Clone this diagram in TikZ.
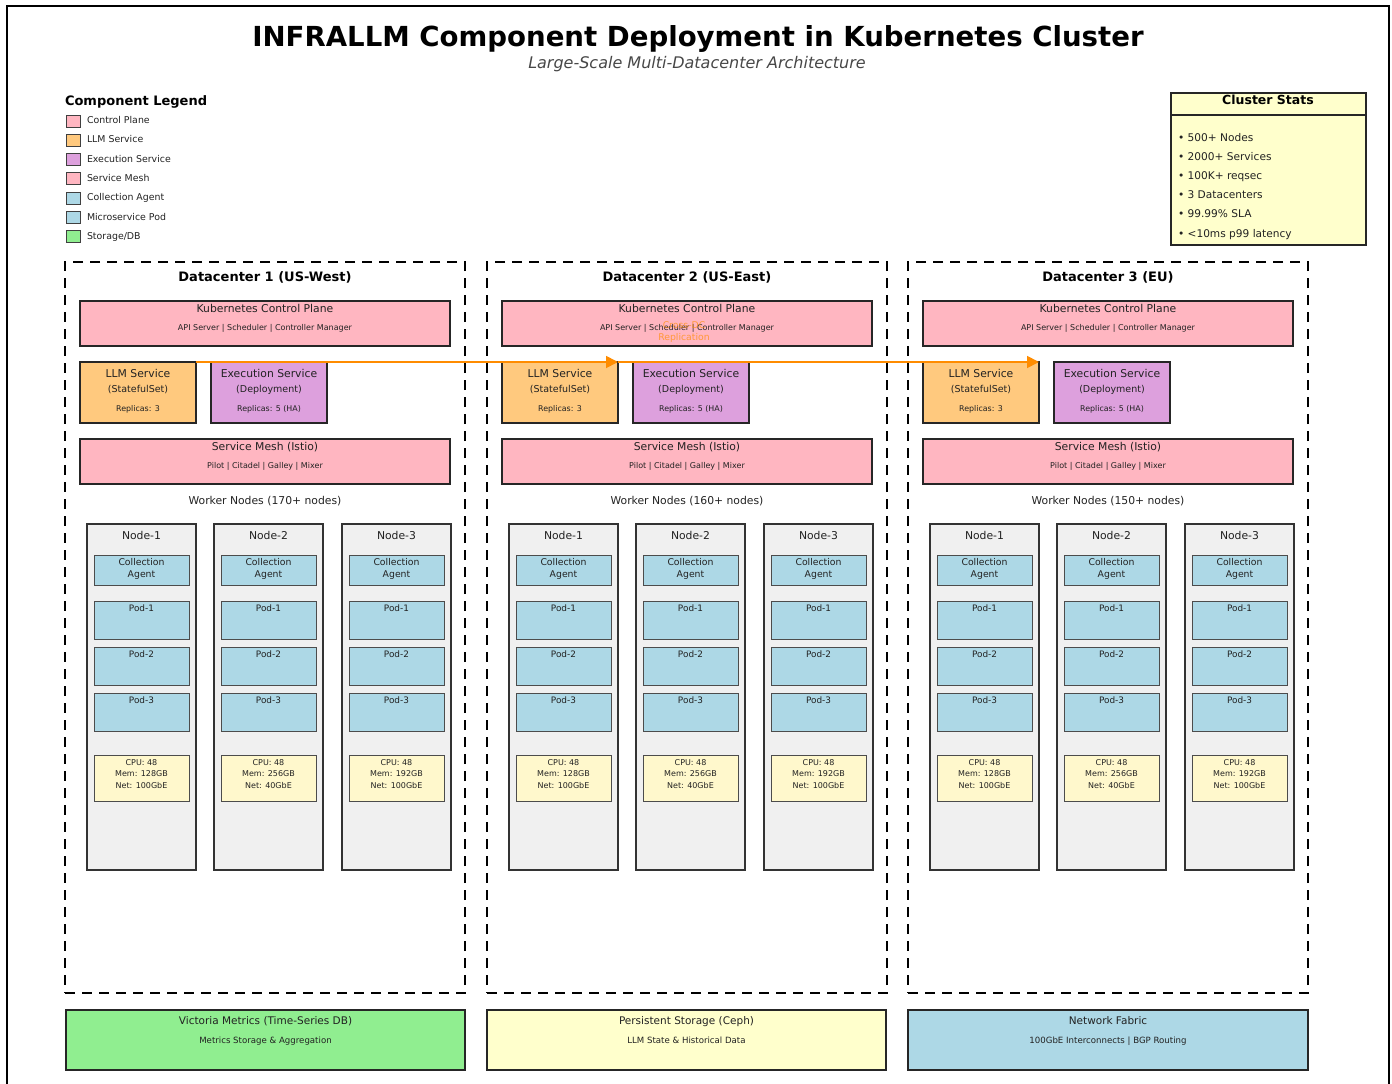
\documentclass[tikz,border=0pt]{standalone}
\usepackage{fontspec}
\setmainfont{DejaVu Sans}
\usetikzlibrary{arrows.meta}

\definecolor{pinkfill}{HTML}{FFB6C1}
\definecolor{llmfill}{HTML}{FFC97E}
\definecolor{execfill}{HTML}{DDA0DD}
\definecolor{bluefill}{HTML}{ADD8E6}
\definecolor{greenfill}{HTML}{90EE90}
\definecolor{nodefill}{HTML}{F0F0F0}
\definecolor{specfill}{HTML}{FFF8CC}
\definecolor{yellowfill}{HTML}{FFFFCC}
\definecolor{replorange}{HTML}{FF8C00}
\definecolor{inkdark}{HTML}{222222}

\newcommand\fsz[1]{\fontsize{#1}{#1}\selectfont}

\begin{document}
\begin{tikzpicture}[x=1pt, y=-1pt,
  box/.style={draw=black!85, line width=1.3pt, anchor=north west, inner sep=0pt, outer sep=0pt},
  thinbox/.style={draw=black!70, line width=0.9pt, anchor=north west, inner sep=0pt, outer sep=0pt},
  txt/.style={anchor=base, inner sep=0pt, outer sep=0pt, text=inkdark},
  dcframe/.style={draw=black, line width=2.2pt, dash pattern=on 10pt off 7pt, anchor=north west, inner sep=0pt, outer sep=0pt},
  swatch/.style={draw=black!75, line width=0.8pt, anchor=north west, inner sep=0pt, minimum width=14pt, minimum height=12pt},
  repl/.style={draw=replorange, line width=1.8pt, -{Triangle[length=12pt,width=12pt]}},
]
\useasboundingbox (0,0) rectangle (1392,1084);

% outer frame of the figure
\node[draw=black, line width=2pt, anchor=north west, minimum width=1382pt, minimum height=1100pt, inner sep=0pt] (frame) at (6,5) {};

% title block
\node[txt, font=\bfseries\fsz{27.6}, text=black] (title) at (698,46) {INFRALLM Component Deployment in Kubernetes Cluster};
\node[txt, font=\itshape\fsz{16}, text=black!72] (subtitle) at (697,68.5) {Large-Scale Multi-Datacenter Architecture};

% legend
\node[txt, anchor=base west, font=\bfseries\fsz{13}, text=black] (legtitle) at (65,105) {Component Legend};
\foreach \c/\t [count=\k] in {pinkfill/Control Plane, llmfill/LLM Service, execfill/Execution Service, pinkfill/Service Mesh, bluefill/Collection Agent, bluefill/Microservice Pod, greenfill/Storage\slash DB} {
  \node[swatch, fill=\c] (sw\k) at (66,{114.5+(\k-1)*19.33}) {};
  \node[txt, anchor=base west, font=\fsz{9.4}] (lg\k) at (87,{123.6+(\k-1)*19.33}) {\t};
}

% cluster statistics panel
\node[box, fill=yellowfill, minimum width=195pt, minimum height=152pt] (stats) at (1171,93) {};
\coordinate (statsL) at (1171,115);
\coordinate (statsR) at (1366,115);
\draw[draw=black!85, line width=1.3pt] (statsL) -- (statsR);
\node[txt, font=\bfseries\fsz{12.5}, text=black] (statstitle) at (1268,104) {Cluster Stats};
\foreach \t [count=\k] in {500+ Nodes, 2000+ Services, 100K+ reqsec, 3 Datacenters, 99.99\% SLA, <10ms p99 latency} {
  \node[txt, anchor=base west, font=\fsz{10.6}] (st\k) at (1178,{141+(\k-1)*19.2}) {• \t};
}

% datacenters
\foreach \d/\ox/\place/\wn in {1/0/US-West/170, 2/422/US-East/160, 3/843/EU/150} {
  \node[dcframe, minimum width=400pt, minimum height=731pt] (dc\d) at (65+\ox,262) {};
  \node[txt, font=\bfseries\fsz{13}, text=black] (dct\d) at (265+\ox,281) {Datacenter \d\ (\place)};

  % control plane
  \node[box, fill=pinkfill, minimum width=370pt, minimum height=45pt] (cp\d) at (80+\ox,301) {};
  \node[txt, font=\fsz{10.8}] (cpt\d) at (265+\ox,312) {Kubernetes Control Plane};
  \node[txt, font=\fsz{8}] (cps\d) at (265+\ox,330) {API Server | Scheduler | Controller Manager};

  % LLM and execution services
  \node[box, fill=llmfill, minimum width=116pt, minimum height=61pt] (llm\d) at (80+\ox,362) {};
  \node[txt, font=\fsz{10.8}] (llmt\d) at (138+\ox,377) {LLM Service};
  \node[txt, font=\fsz{9.5}] (llms\d) at (138+\ox,392.5) {(StatefulSet)};
  \node[txt, font=\fsz{7.9}] (llmr\d) at (138+\ox,411) {Replicas: 3};
  \node[box, fill=execfill, minimum width=116pt, minimum height=61pt] (ex\d) at (211+\ox,362) {};
  \node[txt, font=\fsz{10.8}] (ext\d) at (269+\ox,377) {Execution Service};
  \node[txt, font=\fsz{9.5}] (exs\d) at (269+\ox,392.5) {(Deployment)};
  \node[txt, font=\fsz{7.9}] (exr\d) at (269+\ox,411) {Replicas: 5 (HA)};

  % service mesh
  \node[box, fill=pinkfill, minimum width=370pt, minimum height=45pt] (sm\d) at (80+\ox,439) {};
  \node[txt, font=\fsz{10.8}] (smt\d) at (265+\ox,450) {Service Mesh (Istio)};
  \node[txt, font=\fsz{8}] (sms\d) at (265+\ox,468) {Pilot | Citadel | Galley | Mixer};

  \node[txt, font=\fsz{10.8}] (wn\d) at (265+\ox,504) {Worker Nodes (\wn+ nodes)};

  % worker nodes
  \foreach \n/\nx/\memsz/\netsp in {1/87/128/100, 2/214/256/40, 3/342/192/100} {
    \node[box, draw=black!80, line width=1.2pt, fill=nodefill, minimum width=109pt, minimum height=346pt] (nd\d\n) at (\nx+\ox,524) {};
    \node[txt, font=\fsz{10.8}] (ndt\d\n) at (\nx+\ox+54.5,539) {Node-\n};
    \node[thinbox, fill=bluefill, minimum width=95pt, minimum height=30pt] (ca\d\n) at (\nx+\ox+7,555) {};
    \node[txt, font=\fsz{9.3}] (caa\d\n) at (\nx+\ox+54.5,565.5) {Collection};
    \node[txt, font=\fsz{9.3}] (cab\d\n) at (\nx+\ox+54.5,577.5) {Agent};
    \foreach \p/\py in {1/601, 2/647, 3/693} {
      \node[thinbox, fill=bluefill, minimum width=95pt, minimum height=38pt] (pod\d\n\p) at (\nx+\ox+7,\py) {};
      \node[txt, font=\fsz{8.9}] (podt\d\n\p) at (\nx+\ox+54.5,\py+10.5) {Pod-\p};
    }
    \node[thinbox, fill=specfill, minimum width=95pt, minimum height=46pt] (spec\d\n) at (\nx+\ox+7,755) {};
    \node[txt, font=\fsz{8}] (speca\d\n) at (\nx+\ox+54.5,765) {CPU: 48};
    \node[txt, font=\fsz{8}] (specb\d\n) at (\nx+\ox+54.5,776.5) {Mem: \memsz{}GB};
    \node[txt, font=\fsz{8}] (specc\d\n) at (\nx+\ox+54.5,788) {Net: \netsp{}GbE};
  }
}

% cross-datacenter replication
\draw[repl] (llm1.north east) -- (llm2.north east);
\draw[repl] (llm2.north east) -- (llm3.north east);
\node[txt, font=\fsz{9.3}, text=replorange, text opacity=0.7] (repla) at (684,328) {Cross-DC};
\node[txt, font=\fsz{9.3}, text=replorange, text opacity=0.7] (replb) at (684,340) {Replication};

% shared storage and network
\node[box, fill=greenfill, minimum width=399pt, minimum height=60pt] (vm) at (66,1010) {};
\node[txt, font=\fsz{10.5}] (vmt) at (265.5,1024) {Victoria Metrics (Time-Series DB)};
\node[txt, font=\fsz{8.6}] (vms) at (265.5,1043) {Metrics Storage \& Aggregation};
\node[box, fill=yellowfill, minimum width=399pt, minimum height=60pt] (ceph) at (487,1010) {};
\node[txt, font=\fsz{10.5}] (cepht) at (686.5,1024) {Persistent Storage (Ceph)};
\node[txt, font=\fsz{8.6}] (cephs) at (686.5,1043) {LLM State \& Historical Data};
\node[box, fill=bluefill, minimum width=400pt, minimum height=60pt] (net) at (908,1010) {};
\node[txt, font=\fsz{10.5}] (nett) at (1108,1024) {Network Fabric};
\node[txt, font=\fsz{8.6}] (nets) at (1108,1043) {100GbE Interconnects | BGP Routing};
\end{tikzpicture}
\end{document}
